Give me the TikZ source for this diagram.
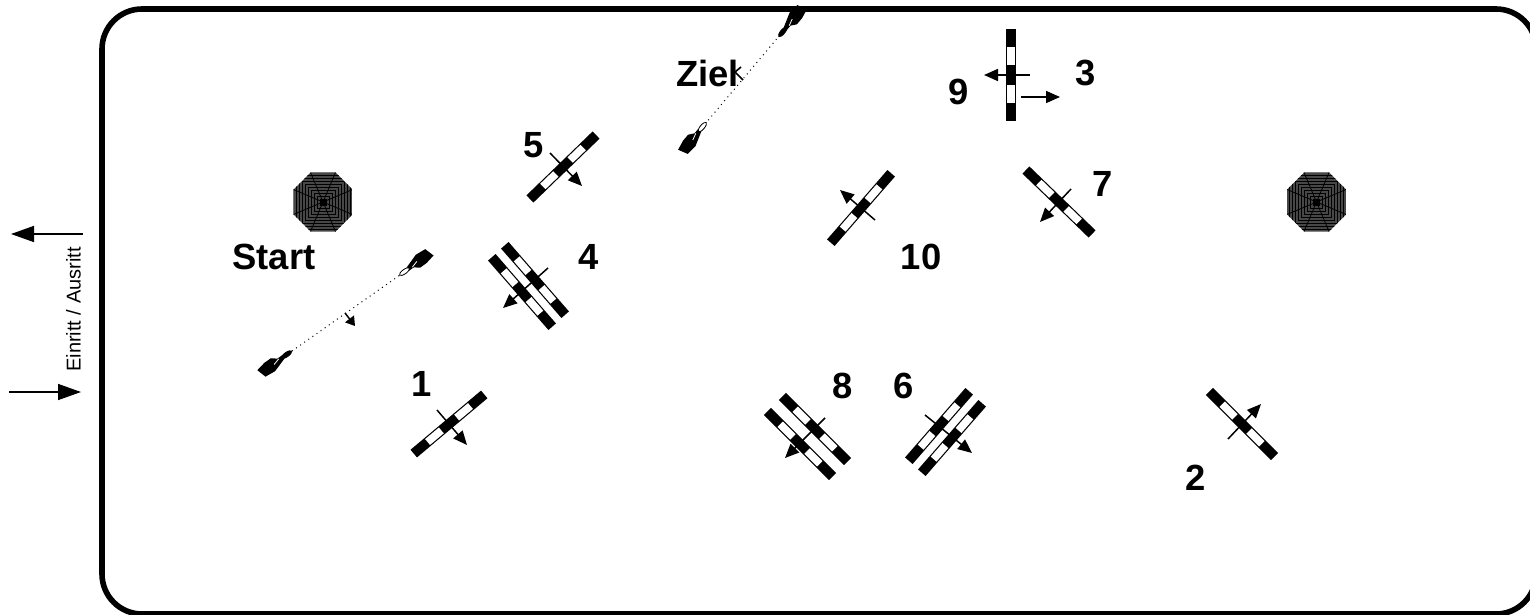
\documentclass[tikz,border=0pt]{standalone}
\usepackage{fontspec}
\setmainfont{Liberation Sans}
\usetikzlibrary{arrows.meta}

\tikzset{
    nummer/.style={font=\bfseries\fontsize{18.2}{20}\selectfont, inner sep=0pt},
    pfeil/.style={line width=0.75pt, -{Triangle[length=7pt,width=6pt]}},
    grosspfeil/.style={line width=0.75pt, -{Triangle[length=11.5pt,width=8pt]}},
    stange/.pic={
        \fill (-46,-5) rectangle (46,5);
        \fill[white] (-28,-3.8) rectangle (-10,3.8);
        \fill[white] (10,-3.8) rectangle (28,3.8);
    },
    kegel/.pic={
        \begin{scope}
            \clip (-29.5,-12.5)--(-12.5,-29.5)--(12.5,-29.5)--(29.5,-12.5)--(29.5,12.5)--(12.5,29.5)--(-12.5,29.5)--(-29.5,12.5)--cycle;
            \fill[black!72] (-30,-30) rectangle (30,30);
            \foreach \a in {3,6,...,39} {
                \draw[black, line width=0.25pt] (-\a,-\a) rectangle (\a,\a);
            }
            \fill (-3,-3) rectangle (3,3);
            \foreach \x/\y in {-29.5/-12.5,-12.5/-29.5,12.5/-29.5,29.5/-12.5,29.5/12.5,12.5/29.5,-12.5/29.5,-29.5/12.5} {
                \draw[line width=0.4pt] (0,0)--(\x,\y);
            }
        \end{scope}
    },
    richter/.pic={
        \fill (-20,-4)--(-17,6)--(-6,7)--(3,4)--(9,2)--(9,-2)--(3,-2)--(-2,-6)--(-10,-6)--cycle;
        \filldraw[fill=#1, line width=0.4pt] (13,0) ellipse [x radius=6, y radius=2.2];
        \draw[white, line width=0.4pt] (-3,1)--(4,-1);
    }
}

\begin{document}
\begin{tikzpicture}[x=0.5pt, y=-0.5pt]
    \clip (0,0) rectangle (1530,615);
    \draw [line width=2.8pt, rounded corners=20pt] (102,9) rectangle (1536,614);

    \node (start) [nummer] at (274,257) {Start};
    \node (ziel) [nummer] at (707.5,73) {Ziel};
    \node (n1) [nummer] at (422,384) {1};
    \node (n2) [nummer] at (1196,478) {2};
    \node (n3) [nummer] at (1086,73) {3};
    \node (n4) [nummer] at (589,257) {4};
    \node (n5) [nummer] at (534,145) {5};
    \node (n6) [nummer] at (904,386) {6};
    \node (n7) [nummer] at (1103,184) {7};
    \node (n8) [nummer] at (843,386) {8};
    \node (n9) [nummer] at (959,92) {9};
    \node (n10) [nummer] at (921,257) {10};
    \node (einritt) [rotate=90, inner sep=0pt, font=\fontsize{10}{12}\selectfont] at (73.5,309.5) {Einritt / Ausritt};

    \draw [grosspfeil] (83,234)--(11,234);
    \draw [grosspfeil] (9,392)--(81,392);

    \pic at (323,202) {kegel};
    \pic at (1316.5,202) {kegel};

    \draw [pfeil] (437,410)--(467,445);
    \pic [rotate=40] at (449,424) {stange};
    \draw [pfeil] (1228,439)--(1261,404);
    \pic [rotate=-45] at (1242,424) {stange};
    \draw [pfeil] (1021,97)--(1060,97);
    \draw [pfeil] (1030,75)--(984,75);
    \pic [rotate=90] at (1011,75.5) {stange};
    \draw [pfeil] (548,268)--(503,308);
    \pic [rotate=-49] at (535,280) {stange};
    \pic [rotate=-49] at (522,292) {stange};
    \draw [pfeil] (550,153)--(582,186);
    \pic [rotate=44] at (563,167) {stange};
    \draw [pfeil] (925,415)--(972,453);
    \pic [rotate=49] at (939,426) {stange};
    \pic [rotate=49] at (952,438) {stange};
    \draw [pfeil] (1071,189)--(1040,222);
    \pic [rotate=-44] at (1059,202) {stange};
    \draw [pfeil] (825,418)--(785,458);
    \pic [rotate=-45] at (815,429) {stange};
    \pic [rotate=-45] at (800,444) {stange};
    \draw [pfeil] (875,220)--(840,190);
    \pic [rotate=49] at (861,208) {stange};

    \coordinate (startA) at (292,351);
    \coordinate (startB) at (400,275);
    \coordinate (zielA) at (705,124);
    \coordinate (zielB) at (780,35);
    \draw [dotted, line width=0.5pt] (startA)--(startB);
    \draw [dotted, line width=0.5pt] (zielA)--(zielB);
    \pic [rotate=35] at (276,362) {richter=black};
    \pic [rotate=216] at (415,264) {richter=white};
    \pic [rotate=50] at (694,137) {richter=white};
    \pic [rotate=230] at (791,22) {richter=black};

    \draw [line width=0.75pt, -{Triangle[length=4.5pt,width=5.5pt]}] (345,313)--(355,326);
    \draw [line width=0.8pt] (743,80)--(734,71);
    \draw [line width=0.8pt] (735,72)--(741,67);
\end{tikzpicture}
\end{document}
